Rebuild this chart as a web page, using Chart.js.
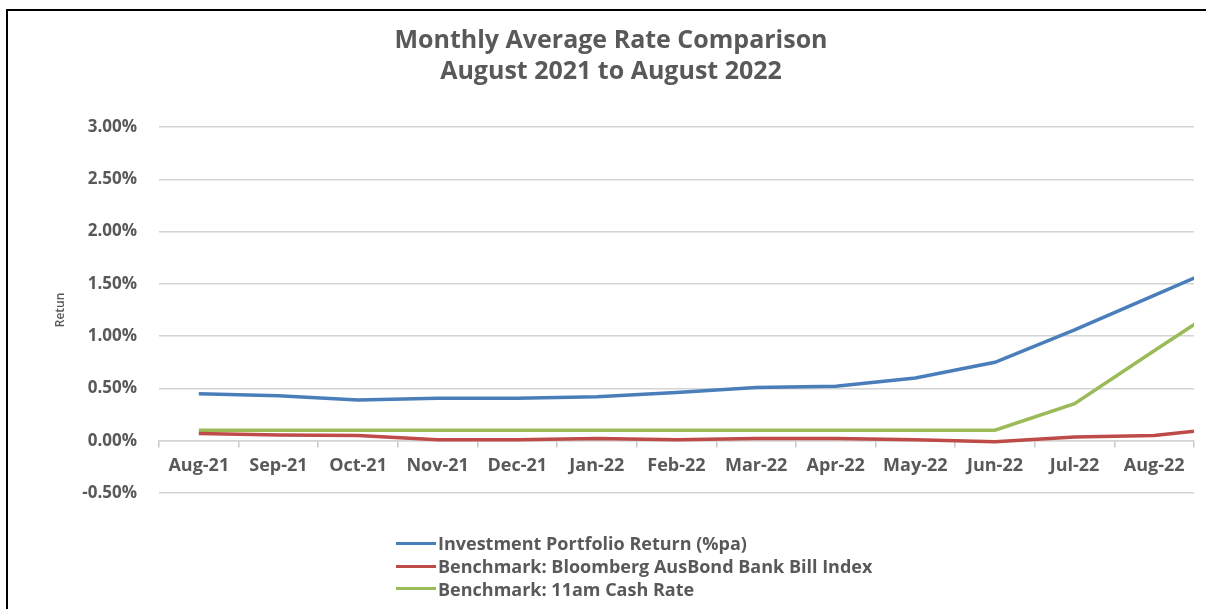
<!DOCTYPE html>
<html>
<head>
<meta charset="utf-8">
<script src="https://cdn.jsdelivr.net/npm/chart.js@4"></script>
<style>
  html, body { margin: 0; padding: 0; background: #fff; overflow: hidden; }
  body { width: 1206px; height: 609px; position: relative; }
  .frame {
    position: absolute; left: 6px; top: 9px; width: 1300px; height: 700px;
    border: 2.5px solid #000; box-sizing: border-box;
  }
  #rateChart { position: absolute; left: 0; top: 0; }
  #legend {
    position: absolute; left: 396px; top: 532px; margin: 0; padding: 0; list-style: none;
    font-family: "Open Sans", sans-serif; font-weight: bold; font-size: 18px; color: #595959;
  }
  #legend li { display: flex; align-items: center; height: 22.7px; white-space: nowrap; }
  #legend .swatch { display: inline-block; width: 40px; height: 3px; margin-right: 2px; }
</style>
</head>
<body>
<div class="frame"></div>
<canvas id="rateChart" width="1206" height="609"></canvas>
<ul id="legend"></ul>
<script>
// months on the axis; the last one runs off the right edge of the plot
const months = ['Aug-21', 'Sep-21', 'Oct-21', 'Nov-21', 'Dec-21', 'Jan-22', 'Feb-22',
  'Mar-22', 'Apr-22', 'May-22', 'Jun-22', 'Jul-22', 'Aug-22', 'Sep-22'];
const shownMonths = 13;

// returns in %
const portfolioReturn = [0.45, 0.43, 0.39, 0.405, 0.405, 0.42, 0.46, 0.51, 0.52, 0.60, 0.75, 1.06, 1.39, 1.72];
const bankBillIndex = [0.07, 0.055, 0.05, 0.01, 0.01, 0.02, 0.01, 0.02, 0.02, 0.01, -0.01, 0.035, 0.05, 0.13];
const cashRate = [0.10, 0.10, 0.10, 0.10, 0.10, 0.10, 0.10, 0.10, 0.10, 0.10, 0.10, 0.355, 0.86, 1.36];

const seriesNames = [
  'Investment Portfolio Return (%pa)',
  'Benchmark: Bloomberg AusBond Bank Bill Index',
  'Benchmark: 11am Cash Rate'
];
const seriesColors = ['#4a7ebb', '#be4b48', '#9bbb59'];

const yMin = -0.5;
const yMax = 3.0;
const yStep = 0.5;

const txt = '#595959';

function toPoints(values) {
  return values.map((v, i) => ({ x: i, y: v }));
}

let rateChart;

function buildLegend() {
  const ul = document.getElementById('legend');
  rateChart.data.datasets.forEach(ds => {
    const li = document.createElement('li');
    const sw = document.createElement('span');
    sw.className = 'swatch';
    sw.style.background = ds.borderColor;
    li.appendChild(sw);
    li.appendChild(document.createTextNode(ds.label));
    ul.appendChild(li);
  });
}

function initChart() {
  const ctx = document.getElementById('rateChart').getContext('2d');
  const series = [portfolioReturn, bankBillIndex, cashRate];

  rateChart = new Chart(ctx, {
    type: 'line',
    data: {
      datasets: series.map((vals, i) => ({
        label: seriesNames[i],
        data: toPoints(vals),
        borderColor: seriesColors[i],
        backgroundColor: seriesColors[i],
        borderWidth: 3.5,
        pointRadius: 0,
        tension: 0
      }))
    },
    options: {
      responsive: false,
      animation: false,
      layout: { padding: { top: 20, left: 28, right: 12, bottom: 116 } },
      plugins: {
        legend: { display: false },
        tooltip: { enabled: false },
        title: {
          display: true,
          text: ['Monthly Average Rate Comparison', 'August 2021 to August 2022'],
          color: txt,
          font: { family: '"Open Sans", sans-serif', size: 25, weight: 'bold', lineHeight: 1.24 },
          padding: { top: 5.5, bottom: 39.5 }
        }
      },
      scales: {
        x: {
          type: 'linear',
          position: { y: 0 },
          min: -0.5,
          max: shownMonths - 0.5,
          afterBuildTicks: axis => {
            axis.ticks = months.slice(0, shownMonths).map((m, i) => ({ value: i }));
          },
          grid: {
            drawOnChartArea: false,
            offset: true,
            tickLength: 6,
            color: '#c8c8c8',
            lineWidth: 1.5
          },
          border: { display: true, color: '#d4d4d4', width: 1.5 },
          ticks: {
            autoSkip: false,
            maxRotation: 0,
            padding: 8,
            color: txt,
            font: { family: '"Open Sans", sans-serif', size: 18, weight: 'bold' },
            callback: value => months[value]
          }
        },
        y: {
          min: yMin,
          max: yMax,
          afterFit: scale => { scale.width = 131; },
          grid: { color: '#d4d4d4', lineWidth: 1.5, drawTicks: false },
          border: { display: false },
          ticks: {
            stepSize: yStep,
            padding: 22,
            color: txt,
            font: { family: '"Open Sans", sans-serif', size: 17, weight: 'bold' },
            callback: value => value.toFixed(2) + '%'
          },
          title: {
            display: true,
            text: 'Retun',
            color: txt,
            font: { family: '"Open Sans", sans-serif', size: 12, weight: '600' },
            padding: { top: 25, bottom: 0 }
          }
        }
      }
    }
  });
}

window.addEventListener('DOMContentLoaded', () => {
  initChart();
  buildLegend();
});
</script>
</body>
</html>
